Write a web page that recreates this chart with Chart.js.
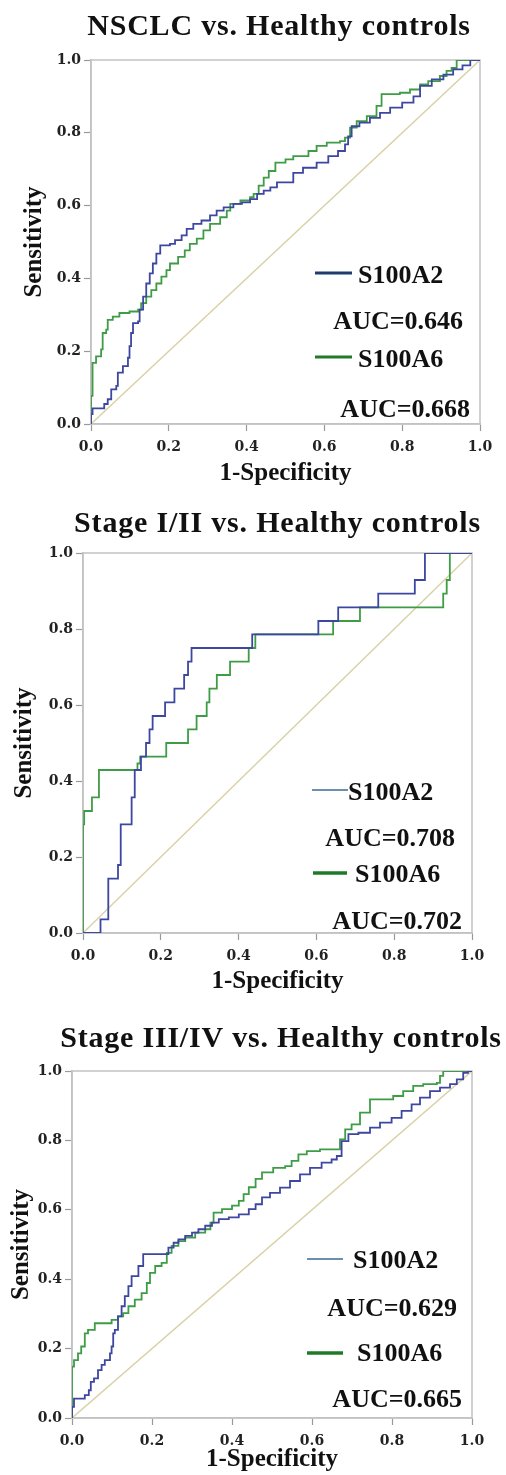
<!DOCTYPE html>
<html><head><meta charset="utf-8">
<script src="https://cdn.jsdelivr.net/npm/chart.js@4.4.0/dist/chart.umd.min.js"></script>
<style>
html,body{margin:0;padding:0;background:#fff;}
body{width:506px;height:1475px;position:relative;overflow:hidden;}
canvas{position:absolute;left:0;}
</style></head><body>
<canvas id="c1" width="506" height="500" style="top:0px;width:506px;height:500px"></canvas>
<canvas id="c2" width="506" height="515" style="top:490px;width:506px;height:515px"></canvas>
<canvas id="c3" width="506" height="485" style="top:990px;width:506px;height:485px"></canvas>
<script>
// ---------- data ----------
const titles = ['NSCLC vs. Healthy controls', 'Stage I/II vs. Healthy controls', 'Stage III/IV vs. Healthy controls'];
const seriesNames = ['S100A2', 'S100A6'];
const aucS100A2 = [0.646, 0.708, 0.629];
const aucS100A6 = [0.668, 0.702, 0.665];
const axisTicks = [0, 0.2, 0.4, 0.6, 0.8, 1.0];
const refLineX = [0, 1];
const refLineY = [0, 1];

// Panel 1: NSCLC vs healthy
const nsclcS100A2Fpr = [0,0,0.004,0.03,0.034,0.043,0.052,0.065,0.069,0.082,0.095,0.099,0.103,0.108,0.121,0.125,0.134,0.142,0.151,0.159,0.168,0.178,0.203,0.216,0.233,0.246,0.263,0.284,0.306,0.323,0.341,0.366,0.388,0.409,0.427,0.444,0.461,0.478,0.504,0.52,0.545,0.58,0.61,0.635,0.653,0.661,0.67,0.69,0.717,0.743,0.769,0.8,0.829,0.846,0.876,0.906,0.931,0.955,0.975,1];
const nsclcS100A2Tpr = [0,0.027,0.043,0.043,0.055,0.068,0.095,0.105,0.141,0.159,0.182,0.214,0.25,0.277,0.282,0.314,0.35,0.386,0.414,0.441,0.468,0.491,0.495,0.505,0.518,0.536,0.55,0.559,0.573,0.586,0.595,0.605,0.609,0.618,0.632,0.641,0.65,0.664,0.664,0.69,0.704,0.718,0.736,0.75,0.768,0.79,0.818,0.828,0.841,0.855,0.869,0.883,0.9,0.929,0.947,0.96,0.974,0.985,1,1];
const nsclcS100A6Fpr = [0,0,0.004,0.013,0.026,0.03,0.039,0.043,0.056,0.073,0.099,0.121,0.129,0.142,0.155,0.168,0.181,0.194,0.203,0.224,0.241,0.254,0.272,0.289,0.306,0.332,0.349,0.358,0.384,0.409,0.418,0.431,0.444,0.457,0.474,0.5,0.52,0.545,0.559,0.58,0.606,0.64,0.653,0.666,0.683,0.709,0.734,0.747,0.794,0.82,0.846,0.867,0.897,0.914,0.927,0.94,1];
const nsclcS100A6Tpr = [0,0.077,0.168,0.186,0.205,0.25,0.259,0.286,0.295,0.305,0.309,0.314,0.332,0.35,0.368,0.386,0.405,0.423,0.441,0.459,0.477,0.495,0.509,0.532,0.55,0.568,0.586,0.605,0.614,0.623,0.632,0.655,0.677,0.695,0.718,0.727,0.736,0.736,0.75,0.764,0.773,0.777,0.787,0.814,0.832,0.846,0.874,0.906,0.91,0.919,0.933,0.942,0.956,0.97,0.978,1,1];

// Panel 2: Stage I/II vs healthy
const earlyS100A2Fpr = [0,0.045,0.045,0.065,0.065,0.09,0.09,0.097,0.097,0.125,0.125,0.133,0.133,0.149,0.149,0.162,0.162,0.171,0.171,0.179,0.179,0.211,0.211,0.235,0.235,0.26,0.26,0.27,0.27,0.279,0.279,0.435,0.435,0.605,0.605,0.656,0.656,0.759,0.759,0.853,0.853,0.879,0.879,1];
const earlyS100A2Tpr = [0,0,0.036,0.036,0.143,0.143,0.179,0.179,0.286,0.286,0.357,0.357,0.429,0.429,0.464,0.464,0.5,0.5,0.536,0.536,0.571,0.571,0.607,0.607,0.643,0.643,0.679,0.679,0.714,0.714,0.75,0.75,0.786,0.786,0.821,0.821,0.857,0.857,0.893,0.893,0.929,0.929,1,1];
const earlyS100A6Fpr = [0,0,0.003,0.003,0.023,0.023,0.041,0.041,0.14,0.14,0.147,0.147,0.214,0.214,0.27,0.27,0.292,0.292,0.318,0.318,0.325,0.325,0.344,0.344,0.378,0.378,0.426,0.426,0.443,0.443,0.643,0.643,0.712,0.712,0.926,0.926,0.935,0.935,0.943,0.943,1];
const earlyS100A6Tpr = [0,0.286,0.286,0.321,0.321,0.357,0.357,0.429,0.429,0.446,0.446,0.464,0.464,0.5,0.5,0.536,0.536,0.571,0.571,0.607,0.607,0.643,0.643,0.679,0.679,0.714,0.714,0.75,0.75,0.786,0.786,0.821,0.821,0.857,0.857,0.893,0.893,0.929,0.929,1,1];

// Panel 3: Stage III/IV vs healthy
const lateS100A2Fpr = [0,0,0.005,0.028,0.032,0.042,0.047,0.055,0.065,0.074,0.082,0.095,0.099,0.103,0.107,0.115,0.124,0.132,0.141,0.149,0.166,0.178,0.237,0.241,0.254,0.266,0.283,0.3,0.316,0.333,0.35,0.367,0.392,0.417,0.442,0.459,0.475,0.495,0.52,0.545,0.57,0.595,0.624,0.649,0.662,0.674,0.691,0.716,0.745,0.77,0.799,0.824,0.849,0.87,0.895,0.92,0.945,0.962,0.978,0.99,1];
const lateS100A2Tpr = [0,0.032,0.056,0.056,0.066,0.08,0.104,0.114,0.138,0.153,0.167,0.186,0.206,0.244,0.254,0.293,0.322,0.351,0.38,0.409,0.438,0.472,0.472,0.491,0.505,0.515,0.525,0.534,0.544,0.554,0.563,0.573,0.578,0.587,0.602,0.616,0.636,0.649,0.664,0.683,0.702,0.721,0.736,0.745,0.755,0.798,0.818,0.822,0.837,0.851,0.865,0.885,0.904,0.923,0.942,0.952,0.962,0.976,0.995,1,1];
const lateS100A6Fpr = [0,0,0.005,0.015,0.023,0.032,0.04,0.057,0.082,0.099,0.115,0.128,0.141,0.157,0.174,0.187,0.195,0.208,0.224,0.237,0.249,0.266,0.283,0.308,0.333,0.346,0.354,0.375,0.4,0.417,0.429,0.442,0.459,0.475,0.503,0.533,0.549,0.566,0.587,0.62,0.662,0.67,0.683,0.699,0.72,0.745,0.778,0.803,0.828,0.853,0.878,0.912,0.92,0.928,1];
const lateS100A6Tpr = [0,0.148,0.167,0.186,0.206,0.244,0.254,0.273,0.273,0.283,0.293,0.302,0.322,0.341,0.36,0.389,0.418,0.438,0.447,0.476,0.496,0.51,0.52,0.534,0.544,0.563,0.592,0.602,0.612,0.626,0.645,0.665,0.689,0.708,0.721,0.726,0.741,0.76,0.769,0.774,0.774,0.803,0.832,0.846,0.88,0.918,0.918,0.928,0.942,0.957,0.962,0.966,0.986,1,1];

// ---------- styling / layout ----------
const BLUE = '#3d47a0', GREEN = '#3f9c46', DIAG = '#d9d1a6';
const SERIF = '"Liberation Serif", "Times New Roman", serif';

const layouts = [
  {id:'c1', h:500, left:91, right:480, top:60, bottom:424, yTitlePad:19.5, xTitlePad:11.5,
   titleX:279, titleY:35, stepped:true,
   leg:{l1:[315,352,273,3,'#1f3c6c'], t1:[358,282.6], a1:[463,328.6], l2:[315,352,357,3,'#217a2a'], t2:[358,366.6], a2:[470,416.6]}},
  {id:'c2', h:515, left:83, right:472, top:63, bottom:443, yTitlePad:9.5, xTitlePad:8.5,
   titleX:277.5, titleY:41.7, stepped:false,
   leg:{l1:[312,348,300,1.6,'#3b6a94'], t1:[348,309.6], a1:[455,355.6], l2:[313,347,383,3.5,'#1f7a28'], t2:[355,391.6], a2:[462,438.6]}},
  {id:'c3', h:485, left:72, right:472, top:81, bottom:428, yTitlePad:6.5, xTitlePad:0.5,
   titleX:281, titleY:56.7, stepped:true,
   leg:{l1:[307,343,269,1.6,'#3b6a94'], t1:[353,277.6], a1:[457,325.6], l2:[307,343,363,3.5,'#1f7a28'], t2:[357,370.6], a2:[462,416.6]}}
];

const panelDecor = {
  id: 'panelDecor',
  beforeDatasetsDraw(chart, args, o) {
    const {ctx, chartArea: a} = chart;
    ctx.save();
    ctx.strokeStyle = '#c2c2c2';
    ctx.lineWidth = 1.5;
    ctx.strokeRect(a.left, a.top, a.right - a.left, a.bottom - a.top);
    ctx.restore();
  },
  afterDraw(chart, args, o) {
    const ctx = chart.ctx;
    const L = o.L;
    ctx.save();
    ctx.fillStyle = '#111';
    ctx.textBaseline = 'alphabetic';
    ctx.font = 'bold 30px ' + SERIF;
    ctx.textAlign = 'center';
    try { ctx.letterSpacing = '0.8px'; } catch (e) {}
    ctx.fillText(o.title, L.titleX, L.titleY);
    try { ctx.letterSpacing = '0px'; } catch (e) {}
    const g = L.leg;
    [g.l1, g.l2].forEach(l => {
      ctx.beginPath();
      ctx.strokeStyle = l[4];
      ctx.lineWidth = l[3];
      ctx.moveTo(l[0], l[2]);
      ctx.lineTo(l[1], l[2]);
      ctx.stroke();
    });
    ctx.font = 'bold 26px ' + SERIF;
    ctx.textAlign = 'left';
    ctx.fillText(seriesNames[0], g.t1[0], g.t1[1]);
    ctx.fillText(seriesNames[1], g.t2[0], g.t2[1]);
    ctx.textAlign = 'right';
    ctx.fillText('AUC=' + o.auc2.toFixed(3), g.a1[0], g.a1[1]);
    ctx.fillText('AUC=' + o.auc6.toFixed(3), g.a2[0], g.a2[1]);
    ctx.restore();
  }
};

const toPts = (xs, ys) => xs.map((x, i) => ({x: x, y: ys[i]}));
const tickFont = {family: '"DejaVu Serif"', weight: 'bold', size: 14};
const axisTitleFont = {family: SERIF, weight: 'bold', size: 25};

function makeChart(i, fpr2, tpr2, fpr6, tpr6) {
  const L = layouts[i];
  const axis = (isX) => ({
    type: 'linear', min: 0, max: 1,
    afterBuildTicks: s => { s.ticks = axisTicks.map(v => ({value: v})); },
    afterFit: s => { if (isX) s.height = L.h - L.bottom; else s.width = L.left; },
    ticks: {font: tickFont, color: '#222', padding: isX ? 8 : 3, callback: v => Number(v).toFixed(1), maxRotation: 0},
    grid: {drawOnChartArea: false, drawTicks: true, tickLength: 7, color: '#9a9a9a', tickWidth: 1.2},
    border: {display: true, color: '#c2c2c2', width: 1.5},
    title: {display: true, text: isX ? '1-Specificity' : 'Sensitivity', font: axisTitleFont, color: '#111',
            padding: isX ? {top: 0, bottom: L.xTitlePad} : {top: L.yTitlePad, bottom: 0}}
  });
  new Chart(document.getElementById(L.id), {
    type: 'scatter',
    data: {datasets: [
      {label: seriesNames[0], data: toPts(fpr2, tpr2), showLine: true, borderColor: BLUE, borderWidth: 1.8, pointRadius: 0, stepped: L.stepped, order: 0},
      {label: seriesNames[1], data: toPts(fpr6, tpr6), showLine: true, borderColor: GREEN, borderWidth: 1.8, pointRadius: 0, stepped: L.stepped, order: 1},
      {label: 'reference', data: toPts(refLineX, refLineY), showLine: true, borderColor: DIAG, borderWidth: 1.4, pointRadius: 0, order: 2}
    ]},
    options: {
      responsive: false, animation: false, devicePixelRatio: 1,
      layout: {padding: {top: L.top, right: 506 - L.right, bottom: 0, left: 0}},
      plugins: {legend: {display: false}, tooltip: {enabled: false},
                panelDecor: {L: L, title: titles[i], auc2: aucS100A2[i], auc6: aucS100A6[i]}},
      scales: {x: axis(true), y: axis(false)}
    },
    plugins: [panelDecor]
  });
}

makeChart(0, nsclcS100A2Fpr, nsclcS100A2Tpr, nsclcS100A6Fpr, nsclcS100A6Tpr);
makeChart(1, earlyS100A2Fpr, earlyS100A2Tpr, earlyS100A6Fpr, earlyS100A6Tpr);
makeChart(2, lateS100A2Fpr, lateS100A2Tpr, lateS100A6Fpr, lateS100A6Tpr);
</script>
</body></html>
